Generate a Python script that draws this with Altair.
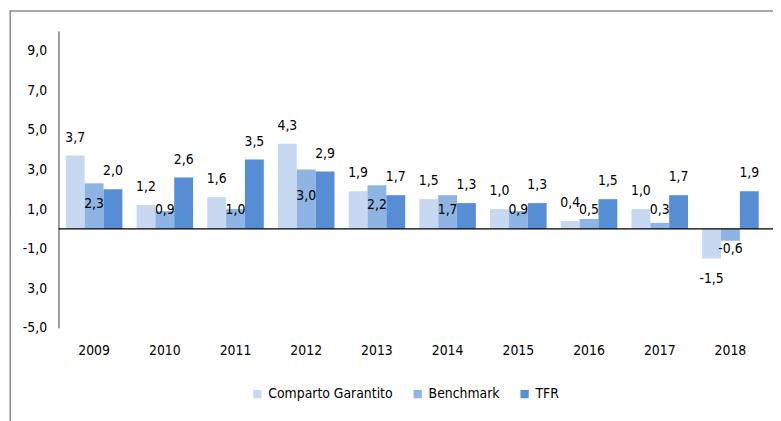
import altair as alt
import pandas as pd

years = ["2009", "2010", "2011", "2012", "2013", "2014", "2015", "2016", "2017", "2018"]
series_names = ["Comparto Garantito", "Benchmark", "TFR"]
comparto = [3.7, 1.2, 1.6, 4.3, 1.9, 1.5, 1.0, 0.4, 1.0, -1.5]
benchmark = [2.3, 0.9, 1.0, 3.0, 2.2, 1.7, 0.9, 0.5, 0.3, -0.6]
tfr = [2.0, 2.6, 3.5, 2.9, 1.7, 1.3, 1.3, 1.5, 1.7, 1.9]
y_ticks = [-5, -3, -1, 1, 3, 5, 7, 9]
colors = ["#C6D9F1", "#8EB4E3", "#558ED5"]

rows = []
for name, vals in zip(series_names, [comparto, benchmark, tfr]):
    for yr, v in zip(years, vals):
        rows.append({"year": yr, "series": name, "value": v})
df = pd.DataFrame(rows)

FONT = "Liberation Sans Narrow, DejaVu Sans Condensed, sans-serif"
FS = 14

x_enc = alt.X("year:N", sort=years, title=None,
              scale=alt.Scale(paddingInner=0.2, paddingOuter=0.104),
              axis=alt.Axis(domain=False, ticks=False, labelAngle=0, labelPadding=16,
                            labelFont=FONT, labelFontSize=FS, labelColor="#000000"))
xo_enc = alt.XOffset("series:N", sort=series_names,
                     scale=alt.Scale(paddingInner=0, paddingOuter=0))
y_scale = alt.Scale(domain=[-5, 10], nice=False, zero=False)

label_expr_y = ("datum.value == -3 ? '3,0' : (datum.value < 0 ? '-' : '') + "
                "replace(format(abs(datum.value), '.1f'), '.', ',')")

bars = alt.Chart(df).mark_bar().encode(
    x=x_enc,
    xOffset=xo_enc,
    y=alt.Y("value:Q", scale=y_scale, title=None,
            axis=alt.Axis(values=y_ticks, labelExpr=label_expr_y, grid=False, ticks=False,
                          domainColor="#404040", domainWidth=1, labelPadding=12,
                          labelFont=FONT, labelFontSize=FS, labelColor="#000000")),
    color=alt.Color("series:N", sort=series_names,
                    scale=alt.Scale(domain=series_names, range=colors),
                    legend=alt.Legend(title=None, orient="none", direction="horizontal",
                                      legendX=194, legendY=360, symbolType="square",
                                      symbolSize=70, symbolStrokeWidth=0, labelOffset=4,
                                      columnPadding=18, labelFont=FONT, labelFontSize=FS,
                                      labelColor="#000000", padding=0)),
)

labels = alt.Chart(df).transform_calculate(
    ly="datum.series == 'Benchmark' ? (datum.value >= 0 ? max(0.95, datum.value * 0.55) : datum.value - 0.4)"
       " : (datum.value >= 0 ? datum.value + 0.9 : datum.value - 1.05)",
    txt="(datum.value < 0 ? '-' : '') + replace(format(abs(datum.value), '.1f'), '.', ',')",
).mark_text(font=FONT, fontSize=FS, color="#000000", baseline="middle", align="center").encode(
    x=alt.X("year:N", sort=years),
    xOffset=alt.XOffset("series:N", sort=series_names),
    y=alt.Y("ly:Q", scale=y_scale),
    text="txt:N",
)

zero_line = alt.Chart(alt.Data(values=[{}])).mark_rule(color="#000000", strokeWidth=1.2).encode(
    y=alt.YDatum(0),
    x=alt.value(0),
    x2=alt.value(722),
)

frame_top = alt.Chart(alt.Data(values=[{}])).mark_rule(color="#8c8c8c", strokeWidth=1.6).encode(
    x=alt.value(-49), x2=alt.value(730), y=alt.value(-20.2)
)
frame_left = alt.Chart(alt.Data(values=[{}])).mark_rule(color="#8c8c8c", strokeWidth=1.6).encode(
    x=alt.value(-48.7), y=alt.value(-21), y2=alt.value(400)
)

chart = alt.layer(bars, labels, zero_line, frame_top, frame_left).properties(
    width=715, height=300,
    autosize=alt.AutoSizeParams(type="none"),
    padding={"left": 51, "top": 21, "right": 7, "bottom": 92},
    background="#ffffff",
).configure_view(stroke=None)

chart.save("out.html", embed_options={"renderer": "svg", "actions": False})
